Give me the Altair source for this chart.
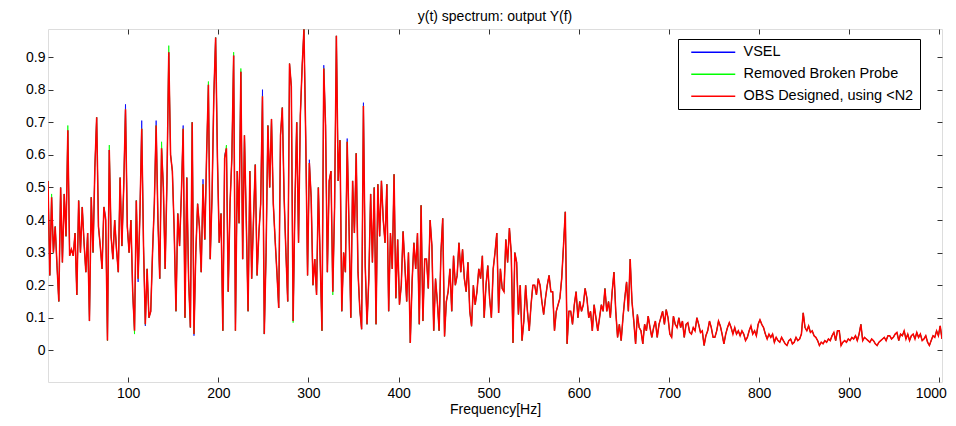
import altair as alt
import pandas as pd

# Frequency grid of the spectrum (Hz)
f_start = 11
f_step = 2

# OBS Designed, using <N2 (red) amplitude, one value every 2 Hz from 11 Hz
obs_amp = [
    0.52, 0.23, 0.47, 0.30, 0.38, 0.26, 0.15, 0.50, 0.27, 0.48,   # 11-29
    0.35, 0.675, 0.29, 0.31, 0.29, 0.36, 0.17, 0.46, 0.30, 0.44,  # 31-49
    0.33, 0.24, 0.36, 0.09, 0.47, 0.30, 0.56, 0.715, 0.38, 0.32,  # 51-69
    0.25, 0.44, 0.40, 0.03, 0.615, 0.35, 0.28, 0.40, 0.31, 0.24,  # 71-89
    0.53, 0.32, 0.50, 0.74, 0.38, 0.30, 0.40, 0.18, 0.06, 0.46,   # 91-109
    0.22, 0.42, 0.68, 0.32, 0.08, 0.25, 0.10, 0.12, 0.30, 0.45,   # 111-129
    0.69, 0.40, 0.22, 0.62, 0.50, 0.25, 0.52, 0.915, 0.60, 0.55,  # 131-149
    0.37, 0.12, 0.42, 0.32, 0.48, 0.68, 0.10, 0.53, 0.22, 0.07,   # 151-169
    0.70, 0.05, 0.30, 0.45, 0.38, 0.24, 0.51, 0.34, 0.60, 0.815,  # 171-189
    0.28, 0.47, 0.78, 0.96, 0.59, 0.33, 0.42, 0.06, 0.59, 0.62,   # 191-209
    0.18, 0.45, 0.59, 0.905, 0.06, 0.55, 0.39, 0.855, 0.28, 0.66, # 211-229
    0.40, 0.12, 0.55, 0.22, 0.40, 0.57, 0.23, 0.36, 0.45, 0.78,   # 231-249
    0.05, 0.30, 0.69, 0.50, 0.71, 0.45, 0.34, 0.24, 0.13, 0.66,   # 251-269
    0.745, 0.47, 0.30, 0.15, 0.88, 0.81, 0.09, 0.45, 0.70, 0.33,  # 271-289
    0.72, 0.87, 0.985, 0.65, 0.23, 0.575, 0.47, 0.20, 0.28, 0.17, # 291-309
    0.50, 0.28, 0.06, 0.865, 0.69, 0.24, 0.52, 0.55, 0.18, 0.44,  # 311-329
    0.965, 0.52, 0.645, 0.12, 0.30, 0.24, 0.64, 0.38, 0.10, 0.52, # 331-349
    0.36, 0.605, 0.24, 0.125, 0.065, 0.75, 0.26, 0.08, 0.22, 0.48, # 351-369
    0.27, 0.50, 0.08, 0.51, 0.35, 0.52, 0.40, 0.33, 0.51, 0.12,   # 371-389
    0.36, 0.25, 0.54, 0.16, 0.34, 0.14, 0.20, 0.365, 0.26, 0.15,  # 391-409
    0.30, 0.023, 0.21, 0.33, 0.25, 0.36, 0.08, 0.445, 0.09, 0.28, # 411-429
    0.28, 0.19, 0.40, 0.32, 0.06, 0.22, 0.15, 0.06, 0.30, 0.405,  # 431-449
    0.043, 0.15, 0.18, 0.25, 0.12, 0.29, 0.20, 0.23, 0.33, 0.24,  # 451-469
    0.31, 0.22, 0.18, 0.27, 0.12, 0.074, 0.20, 0.14, 0.18, 0.25,  # 471-489
    0.22, 0.29, 0.10, 0.20, 0.26, 0.16, 0.10, 0.25, 0.30, 0.36,   # 491-509
    0.115, 0.25, 0.19, 0.18, 0.34, 0.27, 0.375, 0.30, 0.023, 0.30, # 511-529
    0.27, 0.11, 0.20, 0.03, 0.09, 0.20, 0.12, 0.06, 0.14, 0.20,   # 531-549
    0.20, 0.17, 0.22, 0.20, 0.15, 0.11, 0.16, 0.20, 0.23, 0.18,   # 551-569
    0.18, 0.06, 0.12, 0.14, 0.16, 0.22, 0.32, 0.425, 0.02, 0.12,  # 571-589
    0.12, 0.08, 0.14, 0.18, 0.10, 0.15, 0.12, 0.14, 0.19, 0.16,   # 591-609
    0.10, 0.12, 0.06, 0.14, 0.10, 0.06, 0.10, 0.14, 0.12, 0.19,   # 611-629
    0.12, 0.15, 0.10, 0.18, 0.24, 0.12, 0.04, 0.08, 0.03, 0.10,   # 631-649
    0.16, 0.21, 0.12, 0.28, 0.15, 0.09, 0.02, 0.11, 0.07, 0.06,   # 651-669
    0.02, 0.08, 0.06, 0.105, 0.07, 0.04, 0.07, 0.09, 0.04, 0.08,  # 671-689
    0.10, 0.12, 0.08, 0.125, 0.10, 0.05, 0.04, 0.105, 0.08, 0.07, # 691-709
    0.10, 0.07, 0.09, 0.04, 0.08, 0.085, 0.055, 0.05, 0.07, 0.06, # 711-729
    0.10, 0.08, 0.055, 0.06, 0.015, 0.045, 0.06, 0.09, 0.07, 0.04, # 731-749
    0.04, 0.06, 0.09, 0.075, 0.05, 0.02, 0.05, 0.07, 0.085, 0.07, # 751-769
    0.05, 0.07, 0.05, 0.06, 0.045, 0.06, 0.05, 0.03, 0.04, 0.06,  # 771-789
    0.075, 0.05, 0.06, 0.045, 0.08, 0.094, 0.08, 0.07, 0.05, 0.035, # 791-809
    0.05, 0.04, 0.05, 0.025, 0.04, 0.03, 0.025, 0.04, 0.03, 0.02, # 811-829
    0.015, 0.03, 0.035, 0.02, 0.025, 0.04, 0.03, 0.035, 0.05, 0.115, # 831-849
    0.07, 0.06, 0.075, 0.055, 0.06, 0.045, 0.04, 0.03, 0.015, 0.025, # 851-869
    0.02, 0.03, 0.025, 0.035, 0.03, 0.045, 0.055, 0.03, 0.06, 0.06, # 871-889
    0.015, 0.025, 0.03, 0.025, 0.035, 0.03, 0.04, 0.035, 0.045, 0.03, # 891-909
    0.05, 0.08, 0.03, 0.04, 0.035, 0.03, 0.025, 0.035, 0.03, 0.02, # 911-929
    0.015, 0.025, 0.03, 0.035, 0.04, 0.03, 0.045, 0.045, 0.035, 0.04, # 931-949
    0.05, 0.055, 0.03, 0.05, 0.045, 0.06, 0.035, 0.05, 0.03, 0.045, # 951-969
    0.05, 0.035, 0.055, 0.04, 0.05, 0.03, 0.035, 0.045, 0.025, 0.015, # 971-989
    0.03, 0.045, 0.04, 0.06, 0.045, 0.075, 0.035,                 # 991-1003
]

# Frequencies (Hz) where the VSEL (blue) curve differs from the red one
vsel_diff = {75: 0.41, 97: 0.755, 105: 0.17, 111: 0.21, 115: 0.705, 119: 0.075,
             131: 0.705, 161: 0.69, 173: 0.045, 183: 0.525, 195: 0.785, 207: 0.60,
             249: 0.80, 301: 0.585, 317: 0.875, 343: 0.65, 361: 0.76}

# Frequencies (Hz) where the Removed Broken Probe (green) curve differs
probe_diff = {15: 0.48, 33: 0.69, 79: 0.63, 107: 0.05, 137: 0.64, 145: 0.935,
              189: 0.825, 199: 0.60, 209: 0.63, 217: 0.915, 225: 0.865,
              283: 0.085, 327: 0.17}

series_names = ["VSEL", "Removed Broken Probe", "OBS Designed, using <N2"]
series_colors = ["#0000ff", "#00ff00", "#ff0000"]
series_widths = [0.8, 0.8, 1.5]

freqs = [f_start + f_step * i for i in range(len(obs_amp))]
vsel_amp = [vsel_diff.get(f, a) for f, a in zip(freqs, obs_amp)]
probe_amp = [probe_diff.get(f, a) for f, a in zip(freqs, obs_amp)]

rows = []
for name, amps in zip(series_names, [vsel_amp, probe_amp, obs_amp]):
    for f, a in zip(freqs, amps):
        rows.append({"f": f, "amp": a, "series": name})
df = pd.DataFrame(rows)

FONT = "Liberation Sans"
x_ticks = [100, 200, 300, 400, 500, 600, 700, 800, 900, 1000]
y_ticks = [0, 0.1, 0.2, 0.3, 0.4, 0.5, 0.6, 0.7, 0.8, 0.9]
x_dom = [11, 1003]
y_dom = [-0.097, 0.986]

color = alt.Color(
    "series:N",
    scale=alt.Scale(domain=series_names, range=series_colors),
    legend=alt.Legend(
        title=None, orient="none", legendX=630, legendY=10,
        symbolType="M-4,0H4", symbolSize=121, symbolStrokeWidth=1.3,
        symbolOffset=22, labelOffset=23, labelLimit=400,
        labelFontSize=14.5, labelFont=FONT, labelColor="black",
        strokeColor="black", fillColor="white", padding=6,
        rowPadding=7,
    ),
)

axis_common = dict(
    domain=False, grid=False, tickSize=5, offset=-5, tickColor="#333333",
    labelFont=FONT, labelFontSize=14, labelColor="black",
    titleFont=FONT, titleFontSize=14, titleFontWeight="normal", titleColor="black",
)

def layer(name, width, xaxis, yaxis):
    return alt.Chart(df).transform_filter(
        alt.datum.series == name
    ).mark_line(strokeWidth=width, clip=True, interpolate="linear").encode(
        x=alt.X("f:Q", scale=alt.Scale(domain=x_dom, nice=False, zero=False), axis=xaxis),
        y=alt.Y("amp:Q", scale=alt.Scale(domain=y_dom, nice=False, zero=False), axis=yaxis),
        color=color,
    )

x_bottom = alt.Axis(orient="bottom", values=x_ticks, format="d", title="Frequency[Hz]",
                    labelPadding=4, titlePadding=2, labelFlush=6, labelFlushOffset=7,
                    **axis_common)
y_left = alt.Axis(orient="left", values=y_ticks, format="~g", title=None,
                  labelPadding=3, **axis_common)
x_top = alt.Axis(orient="top", values=x_ticks, labels=False, title=None, **axis_common)
y_right = alt.Axis(orient="right", values=y_ticks, labels=False, title=None, **axis_common)

chart = alt.layer(
    layer(series_names[0], series_widths[0], x_bottom, y_left),
    layer(series_names[1], series_widths[1], x_top, y_right),
    layer(series_names[2], series_widths[2], None, None),
).resolve_axis(x="independent", y="independent").properties(
    width=894, height=353,
    title=alt.TitleParams("y(t) spectrum: output Y(f)", font=FONT, fontSize=14,
                          fontWeight="normal", color="black", offset=5, anchor="middle"),
    padding={"left": 40, "top": 21, "right": 6, "bottom": 36},
    autosize=alt.AutoSizeParams(type="none"),
).configure_view(stroke="#333333", strokeWidth=1).configure(background="white")

chart.save("out.html", embed_options={"renderer": "svg", "actions": False})
